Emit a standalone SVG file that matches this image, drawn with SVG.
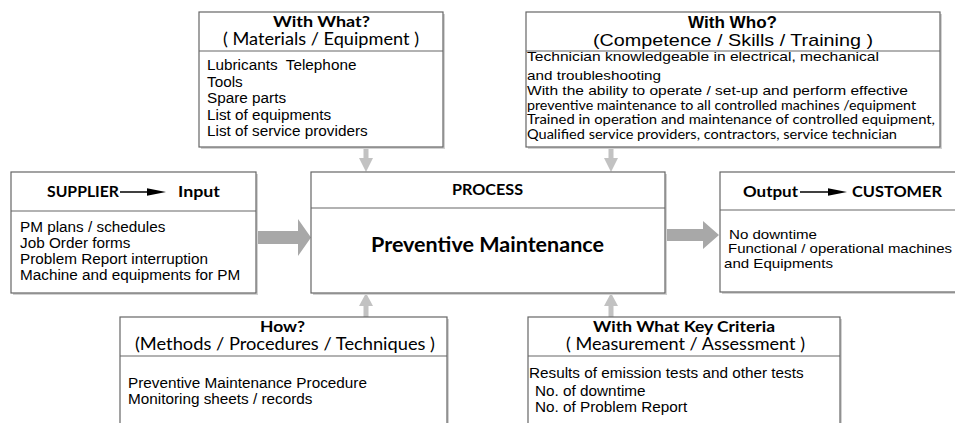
<svg xmlns="http://www.w3.org/2000/svg" width="955" height="423" viewBox="0 0 955 423">
<defs>
<style>
.box{fill:#fff;stroke:#666;stroke-width:1.2}
.sh{fill:#d2d2d2}
.dv{stroke:#666;stroke-width:1.2}
.cb{font-family:Lato,"Open Sans","Liberation Sans",sans-serif;font-weight:bold;fill:#000}
.cr{font-family:Lato,"Open Sans","Liberation Sans",sans-serif;fill:#000}
.ab{font-family:"Liberation Sans",Arial,sans-serif;font-weight:bold;fill:#000}
.ar{font-family:"Liberation Sans",Arial,sans-serif;fill:#000}
.bd{font-family:"Liberation Sans",Arial,sans-serif;font-size:15.3px;fill:#000}
.thin{fill:#c2c2c2}
.thick{fill:#a8a8a8}
.blk{stroke:#000;stroke-width:1.5}
</style>
</defs>

<g id="connectors">
<polygon class="thick" points="257,231 298,231 298,219 311,237.5 298,256 298,244 257,244"/>
<polygon class="thick" points="667,229 703,229 703,221 719,235 703,249 703,241 667,241"/>
<rect class="thin" x="363.5" y="147" width="5" height="12"/>
<polygon class="thin" points="359,158 373,158 366,172"/>
<rect class="thin" x="608.5" y="147" width="5" height="12"/>
<polygon class="thin" points="604,158 618,158 611,172"/>
<rect class="thin" x="363.5" y="305" width="5" height="12"/>
<polygon class="thin" points="359,306 373,306 366,293"/>
<rect class="thin" x="608.5" y="305" width="5" height="12"/>
<polygon class="thin" points="604,306 618,306 611,293"/>
</g>

<g id="with-what">
<rect class="sh" x="201" y="14" width="244" height="135"/>
<rect class="box" x="199" y="12" width="244" height="135"/>
<line class="dv" x1="199" y1="51" x2="443" y2="51"/>
<text class="cb" x="273" y="27" font-size="16" textLength="97" lengthAdjust="spacingAndGlyphs">With What?</text>
<text class="cr" x="223" y="45" font-size="16.5" textLength="196" lengthAdjust="spacingAndGlyphs">( Materials / Equipment )</text>
<text class="bd" x="207" y="70" style="white-space:pre">Lubricants  Telephone</text>
<text class="bd" x="207" y="86.5">Tools</text>
<text class="bd" x="207" y="103">Spare parts</text>
<text class="bd" x="207" y="119.5">List of equipments</text>
<text class="bd" x="207" y="136">List of service providers</text>
</g>

<g id="with-who">
<rect class="sh" x="528" y="14" width="414" height="135"/>
<rect class="box" x="526" y="12" width="414" height="135"/>
<line class="dv" x1="526" y1="51" x2="940" y2="51"/>
<text class="ab" x="688" y="28" font-size="16" textLength="89" lengthAdjust="spacingAndGlyphs">With Who?</text>
<text class="ar" x="593" y="46" font-size="17" textLength="280" lengthAdjust="spacingAndGlyphs">(Competence / Skills / Training )</text>
<text class="ar" x="527" y="61" font-size="13.5" textLength="352" lengthAdjust="spacingAndGlyphs">Technician knowledgeable in electrical, mechanical</text>
<text class="ar" x="527" y="79.5" font-size="13.5" textLength="134" lengthAdjust="spacingAndGlyphs">and troubleshooting</text>
<text class="ar" x="527" y="95" font-size="13.5" textLength="381" lengthAdjust="spacingAndGlyphs">With the ability to operate / set-up and perform effective</text>
<text class="cr" x="527" y="110" font-size="12.5" textLength="389" lengthAdjust="spacingAndGlyphs">preventive maintenance to all controlled machines /equipment</text>
<text class="cr" x="527" y="124" font-size="12.5" textLength="408" lengthAdjust="spacingAndGlyphs">Trained in operation and maintenance of controlled equipment,</text>
<text class="cr" x="527" y="138.5" font-size="12.5" textLength="370" lengthAdjust="spacingAndGlyphs">Qualified service providers, contractors, service technician</text>
</g>

<g id="supplier">
<rect class="sh" x="13" y="174" width="245" height="121"/>
<rect class="box" x="11" y="172" width="245" height="121"/>
<line class="dv" x1="11" y1="211" x2="256" y2="211"/>
<text class="cb" x="47" y="197" font-size="15.5" textLength="72" lengthAdjust="spacingAndGlyphs">SUPPLIER</text>
<line class="blk" x1="120" y1="192" x2="149" y2="192"/>
<polygon points="147,188.3 166,192 147,195.7" fill="#000"/>
<text class="cb" x="178" y="197" font-size="15.5" textLength="42" lengthAdjust="spacingAndGlyphs">Input</text>
<text class="bd" x="20" y="231.5">PM plans / schedules</text>
<text class="bd" x="20" y="247.5">Job Order forms</text>
<text class="bd" x="20" y="263.5">Problem Report interruption</text>
<text class="bd" x="20" y="279.5">Machine and equipments for PM</text>
</g>

<g id="process">
<rect class="sh" x="313" y="174" width="354" height="121"/>
<rect class="box" x="311" y="172" width="354" height="121"/>
<line class="dv" x1="311" y1="208" x2="665" y2="208"/>
<text class="cb" x="452" y="195" font-size="15.5" textLength="71" lengthAdjust="spacingAndGlyphs">PROCESS</text>
<text class="cb" x="371" y="252" font-size="20" textLength="233" lengthAdjust="spacingAndGlyphs">Preventive Maintenance</text>
</g>

<g id="output">
<rect class="sh" x="722" y="174" width="245" height="120"/>
<rect class="box" x="720" y="172" width="245" height="120"/>
<line class="dv" x1="720" y1="210" x2="965" y2="210"/>
<text class="cb" x="743" y="197" font-size="15.5" textLength="55" lengthAdjust="spacingAndGlyphs">Output</text>
<line class="blk" x1="800" y1="192" x2="830" y2="192"/>
<polygon points="828,188.3 847,192 828,195.7" fill="#000"/>
<text class="cb" x="852" y="197" font-size="15.5" textLength="90" lengthAdjust="spacingAndGlyphs">CUSTOMER</text>
<text class="ar" x="729" y="238.5" font-size="13.5" textLength="88" lengthAdjust="spacingAndGlyphs">No downtime</text>
<text class="ar" x="728" y="253" font-size="13.5" textLength="224" lengthAdjust="spacingAndGlyphs">Functional / operational machines</text>
<text class="ar" x="724" y="267.5" font-size="13.5" textLength="109" lengthAdjust="spacingAndGlyphs">and Equipments</text>
</g>

<g id="how">
<rect class="sh" x="122" y="319" width="327" height="120"/>
<rect class="box" x="120" y="317" width="327" height="120"/>
<line class="dv" x1="120" y1="356" x2="447" y2="356"/>
<text class="cb" x="260" y="332" font-size="16" textLength="45" lengthAdjust="spacingAndGlyphs">How?</text>
<text class="cr" x="135" y="350" font-size="16.5" textLength="300" lengthAdjust="spacingAndGlyphs">(Methods / Procedures / Techniques )</text>
<text class="bd" x="128" y="388">Preventive Maintenance Procedure</text>
<text class="bd" x="128" y="404">Monitoring sheets / records</text>
</g>

<g id="key-criteria">
<rect class="sh" x="530" y="319" width="312" height="120"/>
<rect class="box" x="528" y="317" width="312" height="120"/>
<line class="dv" x1="528" y1="356" x2="840" y2="356"/>
<text class="cb" x="593" y="332" font-size="16" textLength="182" lengthAdjust="spacingAndGlyphs">With What Key Criteria</text>
<text class="cr" x="566" y="350" font-size="16.5" textLength="239" lengthAdjust="spacingAndGlyphs">( Measurement / Assessment )</text>
<text class="bd" x="529" y="378">Results of emission tests and other tests</text>
<text class="bd" x="535" y="396">No. of downtime</text>
<text class="bd" x="535" y="412">No. of Problem Report</text>
</g>
</svg>
